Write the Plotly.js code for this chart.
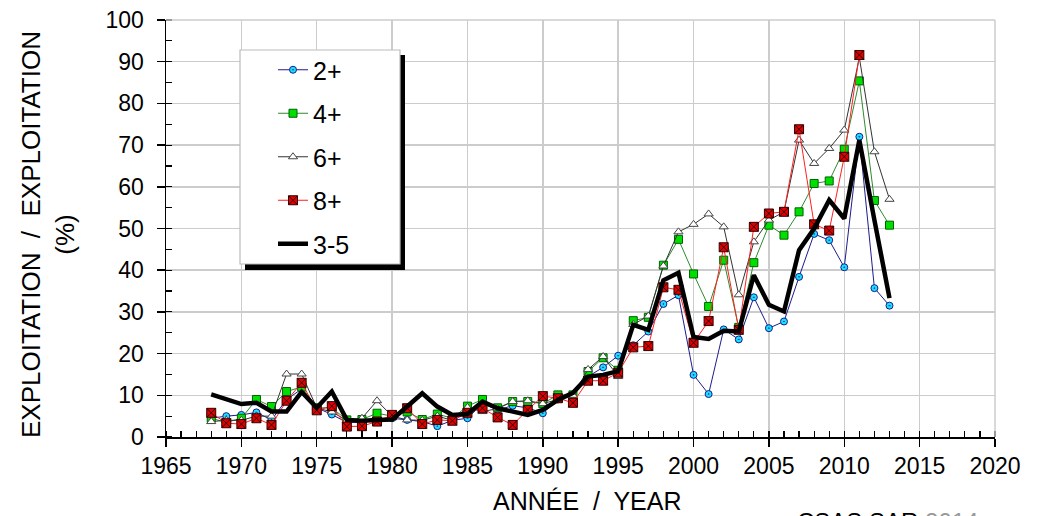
<!DOCTYPE html>
<html>
<head>
<meta charset="utf-8">
<script src="https://cdn.plot.ly/plotly-3.0.1.min.js"></script>
<style>
  html, body { margin: 0; padding: 0; background: #fff; }
  #chart { width: 1041px; height: 516px; }
</style>
</head>
<body>
<div id="chart"></div>
<script>
// Exploitation rate (%) by age group, 1968-2013
const years = [1968,1969,1970,1971,1972,1973,1974,1975,1976,1977,1978,1979,1980,1981,1982,1983,1984,1985,1986,1987,1988,1989,1990,
  1991,1992,1993,1994,1995,1996,1997,1998,1999,2000,2001,2002,2003,2004,2005,2006,2007,2008,2009,2010,2011,2012,2013];

const age2plus = [4.5,5.0,5.3,5.9,4.1,9.0,11.5,7.0,5.4,3.5,3.5,4.0,4.5,4.1,3.7,2.6,4.0,4.5,8.0,6.5,7.5,7.0,5.7,
  9.0,10.0,14.5,16.7,19.5,22.0,25.3,31.9,34.0,14.9,10.3,25.8,23.4,33.5,26.1,27.7,38.4,48.7,47.2,40.7,72.0,35.7,31.5];

const age4plus = [4.5,3.5,4.5,9.0,7.3,10.9,12.0,7.0,7.0,4.1,4.2,5.7,5.0,6.0,4.2,5.5,4.5,7.4,9.0,7.0,8.5,8.5,8.0,
  10.1,10.1,15.7,19.0,16.0,27.9,28.7,41.2,47.4,39.1,31.3,42.4,26.3,41.8,50.8,48.4,54.0,60.8,61.4,69.0,85.4,56.7,50.8];

const age6plus = [3.7,4.0,4.0,5.0,5.0,15.1,15.1,7.0,6.0,4.0,4.5,8.7,5.0,4.1,4.0,5.0,4.0,7.1,6.1,6.8,8.5,8.7,8.0,
  9.0,10.0,16.2,19.3,14.5,27.0,29.0,41.0,49.2,51.0,53.5,50.4,34.1,46.8,52.0,54.0,71.2,65.6,69.2,73.6,91.0,68.4,57.0];

// 8+ series ends in 2011
const age8plus = [5.8,3.3,3.1,4.5,2.9,8.7,13.0,6.4,7.4,2.5,2.6,3.7,5.3,6.9,3.1,4.1,3.9,5.8,6.9,4.7,2.9,6.5,9.8,
  9.3,8.2,13.5,13.5,15.4,21.5,21.8,35.9,35.3,22.6,27.8,45.5,25.7,50.4,53.6,54.0,73.8,51.0,49.5,67.2,91.6];

const age3to5 = [10.2,9.0,7.9,8.2,6.1,6.1,10.8,7.0,10.9,4.1,3.9,4.1,4.2,7.3,10.5,7.3,5.3,5.5,8.5,6.9,6.1,5.3,6.5,
  8.9,10.6,14.5,14.9,15.8,26.9,25.7,37.6,39.4,24.0,23.5,25.5,25.3,38.8,31.7,30.1,44.8,50.0,56.8,52.4,71.2,52.0,33.3];

const seriesNames = ['2+', '4+', '6+', '8+', '3-5'];

const FONT = 'Liberation Sans, Arial, sans-serif';
const W = 1041, H = 516;
const M = { l: 166, r: 46, t: 20, b: 79 };
const PW = W - M.l - M.r, PH = H - M.t - M.b;
// pixel position -> paper fraction
const px = x => (x - M.l) / PW;
const py = y => (H - M.b - y) / PH;

const traces = [
  {
    x: years, y: age2plus, name: seriesNames[0], legendgroup: 'a',
    mode: 'lines+markers',
    line: { color: '#1c1c8c', width: 1 },
    marker: { symbol: 'circle-dot', size: 7, color: '#18e0ff', line: { color: '#1c1c8c', width: 1 } }
  },
  {
    x: years, y: age4plus, name: seriesNames[1], legendgroup: 'b',
    mode: 'lines+markers',
    line: { color: '#2e8b2e', width: 1 },
    marker: { symbol: 'square', size: 8, color: '#00e000', line: { color: '#006000', width: 1 } }
  },
  {
    x: years, y: age6plus, name: seriesNames[2], legendgroup: 'c',
    mode: 'lines+markers',
    line: { color: '#333333', width: 1 },
    marker: { symbol: 'triangle-up', size: 8, color: '#ffffff', line: { color: '#444444', width: 1 } }
  },
  {
    x: years.slice(0, age8plus.length), y: age8plus, name: seriesNames[3], legendgroup: 'd',
    mode: 'lines+markers',
    line: { color: '#ff2020', width: 1 },
    marker: { symbol: 'square-x', size: 9, color: '#e00000', line: { color: '#300000', width: 1 } }
  },
  {
    x: years, y: age3to5, name: seriesNames[4], legendgroup: 'e',
    mode: 'lines',
    line: { color: '#000000', width: 4.5 }
  }
];

const layout = {
  width: W, height: H,
  margin: M,
  paper_bgcolor: '#ffffff',
  plot_bgcolor: '#ffffff',
  font: { family: FONT, size: 22, color: '#000' },
  showlegend: true,
  legend: {
    x: px(273), y: py(47), xanchor: 'left', yanchor: 'top',
    bgcolor: 'rgba(0,0,0,0)', borderwidth: 0,
    font: { family: FONT, size: 25, color: '#000' },
    traceorder: 'grouped', tracegroupgap: 8
  },
  xaxis: {
    range: [1965, 2020],
    tickmode: 'linear', tick0: 1965, dtick: 5,
    ticks: 'outside', ticklen: 8, tickwidth: 1.5, tickcolor: '#000',
    showline: true, linecolor: '#000', linewidth: 1.5,
    showgrid: true, gridcolor: '#cccccc', gridwidth: 1.5,
    zeroline: false,
    tickfont: { family: FONT, size: 23, color: '#000' },
    minor: { dtick: 1, ticks: 'inside', ticklen: 6, tickcolor: '#000', tickwidth: 1.2, showgrid: false }
  },
  yaxis: {
    range: [0, 100],
    tickmode: 'linear', tick0: 0, dtick: 10,
    ticks: 'outside', ticklen: 8, tickwidth: 1.5, tickcolor: '#000',
    ticklabelstandoff: 8,
    showline: true, linecolor: '#000', linewidth: 1.5,
    showgrid: true, gridcolor: '#cccccc', gridwidth: 1.5,
    zeroline: false,
    tickfont: { family: FONT, size: 23, color: '#000' },
    minor: { dtick: 5, ticks: 'inside', ticklen: 6, tickcolor: '#000', tickwidth: 1.2, showgrid: false }
  },
  shapes: [
    // frame on the top and right edges
    { type: 'line', xref: 'paper', yref: 'paper', x0: 0, x1: 1, y0: 1, y1: 1, line: { color: '#cccccc', width: 1.5 } },
    { type: 'line', xref: 'paper', yref: 'paper', x0: 1, x1: 1, y0: 0, y1: 1, line: { color: '#cccccc', width: 1.5 } },
    // legend box with drop shadow
    { type: 'rect', xref: 'paper', yref: 'paper', layer: 'above',
      x0: px(245), x1: px(405), y0: py(270), y1: py(55),
      fillcolor: '#000', line: { width: 0 } },
    { type: 'rect', xref: 'paper', yref: 'paper', layer: 'above',
      x0: px(240), x1: px(400), y0: py(264), y1: py(50),
      fillcolor: '#fff', line: { color: '#bbbbbb', width: 1.2 } }
  ],
  annotations: [
    {
      xref: 'paper', yref: 'paper', x: px(48), y: py(235),
      xanchor: 'center', yanchor: 'middle', textangle: -90, showarrow: false,
      text: 'EXPLOITATION  /  EXPLOITATION<br>(%)',
      font: { family: FONT, size: 26, color: '#000' }
    },
    {
      xref: 'paper', yref: 'paper', x: px(587), y: py(501),
      xanchor: 'center', yanchor: 'middle', showarrow: false,
      text: 'ANNÉE  /  YEAR',
      font: { family: FONT, size: 25, color: '#000' }
    },
    {
      xref: 'paper', yref: 'paper', x: px(795), y: py(506),
      xanchor: 'left', yanchor: 'top', showarrow: false,
      text: 'CSAS SAR <span style="color:#999">2014</span>',
      font: { family: FONT, size: 24, color: '#000' }
    }
  ]
};

Plotly.newPlot('chart', traces, layout, { displayModeBar: false, staticPlot: true });
</script>
</body>
</html>
